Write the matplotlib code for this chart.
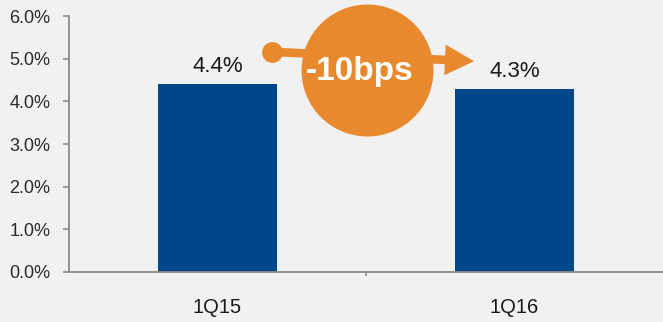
import matplotlib.pyplot as plt
import numpy as np

# quarterly ratio, in percent
quarters = ['1Q15', '1Q16']
ratio = [4.4, 4.3]
change_label = '-10bps'

bg = '#f1f1f1'
blue = '#00468a'
orange = '#e8892e'
grey = '#8c8c8c'

plt.rcParams['font.family'] = ['Liberation Sans', 'DejaVu Sans']

fig = plt.figure(figsize=(6.63, 3.22), dpi=100, facecolor=bg)
ax = fig.add_axes([69 / 663, 50 / 322, 594 / 663, 256 / 322])
ax.set_facecolor(bg)

x = np.arange(len(quarters))
ax.bar(x, ratio, width=0.40, color=blue, zorder=2)
for xi, v in zip(x, ratio):
    ax.annotate('%.1f%%' % v, (xi, v), xytext=(0, 5), textcoords='offset points',
                ha='center', va='bottom', fontsize=16, color='#1a1a1a')

ax.set_xlim(-0.5, 1.5)
ax.set_ylim(0, 6)
ax.set_yticks(np.arange(0, 7, 1))
ax.set_yticklabels(['%.1f%%' % t for t in range(7)], fontsize=13, color='#2a2a2a')
ax.set_xticks(x)
ax.set_xticklabels(quarters, fontsize=14.5, color='#1a1a1a')
ax.set_xticks([0.5], minor=True)
ax.tick_params(axis='x', which='major', length=0, pad=19)
ax.tick_params(axis='x', which='minor', length=3, width=1.2, color=grey, direction='out')
ax.tick_params(axis='y', length=4.5, width=1.2, color=grey, pad=9)

for s in ['top', 'right']:
    ax.spines[s].set_visible(False)
for s in ['left', 'bottom']:
    ax.spines[s].set_color(grey)
    ax.spines[s].set_linewidth(1.3)

# change badge: arrow from the first bar toward the second, with a disc on top
ax.plot([0.183], [5.16], marker='o', markersize=14, color=orange, zorder=4, clip_on=False)
ax.annotate('', xy=(0.864, 4.94), xytext=(0.183, 5.16),
            arrowprops=dict(facecolor=orange, edgecolor='none', width=6.2,
                            headwidth=22, headlength=21, shrink=0), zorder=4)
ax.plot([0.505], [4.73], marker='o', markersize=94, color=orange, zorder=5, clip_on=False)
ax.text(0.48, 4.71, change_label, ha='center', va='center', fontsize=24,
        fontweight='bold', color='white', zorder=6)

fig.savefig('out.png', dpi=100, facecolor=bg)
